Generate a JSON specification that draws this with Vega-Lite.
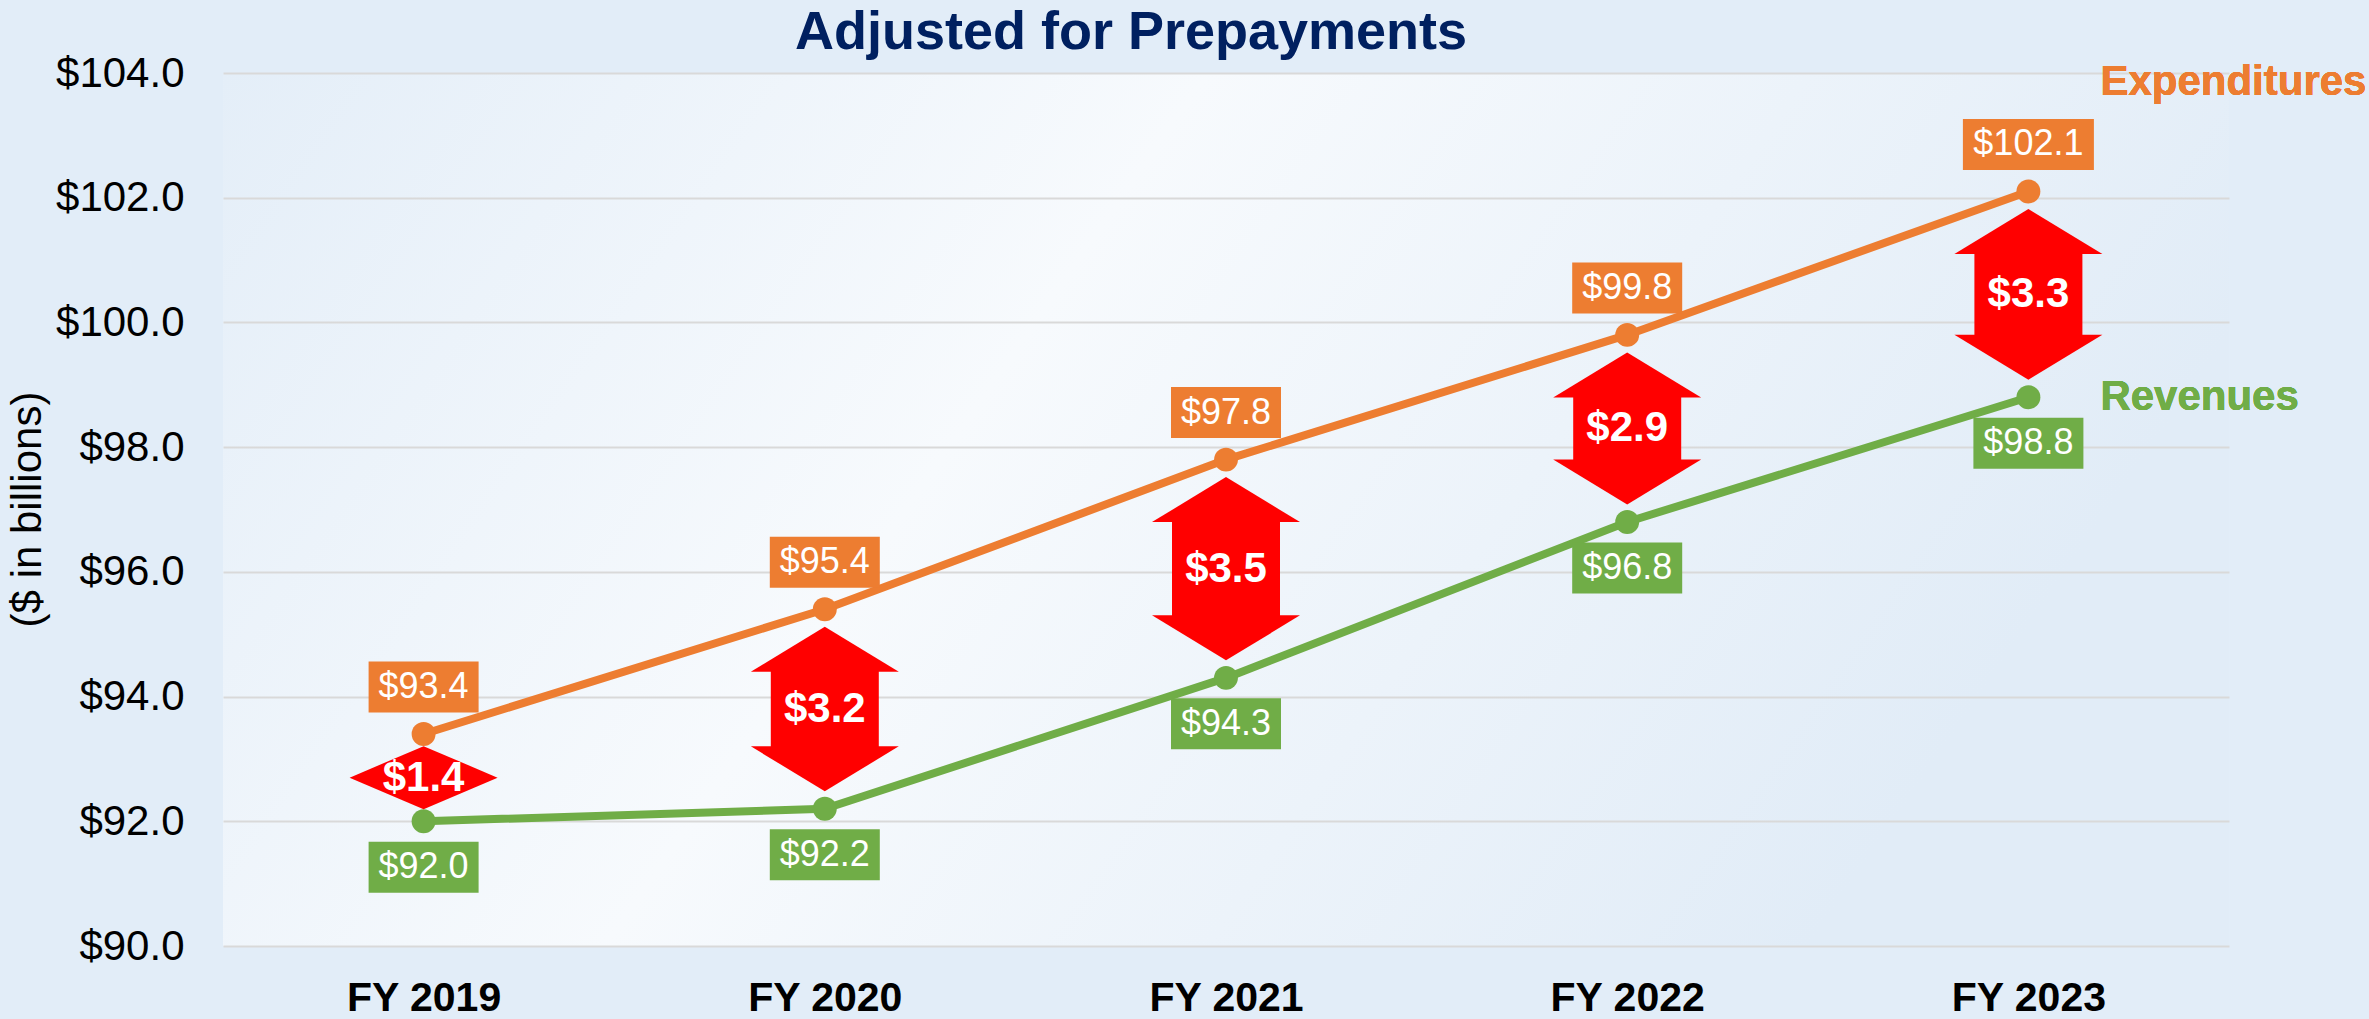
{
  "$schema": "https://vega.github.io/schema/vega-lite/v6.json",
  "width": 2006,
  "height": 873,
  "autosize": {"type": "none"},
  "padding": {"left": 223, "top": 73, "right": 140, "bottom": 73},
  "background": "#E2EDF8",
  "config": {
    "font": "Liberation Sans, Arial, sans-serif",
    "view": {
      "stroke": null,
      "fill": {
        "gradient": "linear", "x1": 0, "y1": 0, "x2": 1, "y2": 0.3,
        "stops": [
          {"offset": 0, "color": "#E4EEF8"},
          {"offset": 0.45, "color": "#F7FAFD"},
          {"offset": 1, "color": "#E1ECF7"}
        ]
      }
    },
    "axisX": {
      "labelAngle": 0, "labelFontSize": 41, "labelFontWeight": "bold", "labelColor": "#000000",
      "ticks": false, "tickSize": 0, "domain": false, "grid": false,
      "labelPadding": 64, "labelBaseline": "alphabetic", "labelFont": "Liberation Sans"
    },
    "axisY": {
      "domain": false, "ticks": false, "tickSize": 0, "labelPadding": 39,
      "labelFontSize": 42, "labelColor": "#000000", "labelFont": "Liberation Sans",
      "labelBaseline": "middle",
      "gridColor": "#D9D9D9", "gridWidth": 2,
      "titleFontSize": 42, "titleFontWeight": "normal", "titleColor": "#000000", "titleFont": "Liberation Sans",
      "titleX": -196, "titleY": 436, "titleAngle": -90, "titleAlign": "center", "titleBaseline": "middle"
    }
  },
  "title": {
    "text": "Adjusted for Prepayments",
    "fontSize": 54, "fontWeight": "bold", "color": "#002060", "font": "Liberation Sans",
    "anchor": "middle", "baseline": "alphabetic", "offset": 9, "dx": -95, "dy": 60
  },
  "data": {
    "values": [
      {"year": "FY 2019", "Expenditures": 93.4, "Revenues": 92.0, "Gap": 1.4},
      {"year": "FY 2020", "Expenditures": 95.4, "Revenues": 92.2, "Gap": 3.2},
      {"year": "FY 2021", "Expenditures": 97.8, "Revenues": 94.3, "Gap": 3.5},
      {"year": "FY 2022", "Expenditures": 99.8, "Revenues": 96.8, "Gap": 2.9},
      {"year": "FY 2023", "Expenditures": 102.1, "Revenues": 98.8, "Gap": 3.3}
    ]
  },
  "encoding": {
    "x": {
      "field": "year", "type": "ordinal", "title": null,
      "scale": {"type": "point", "padding": 0.5}
    }
  },
  "layer": [
    {
      "mark": {"type": "line", "color": "#ED7D31", "strokeWidth": 8},
      "encoding": {
        "y": {
          "field": "Expenditures", "type": "quantitative", "title": "($ in billions)",
          "scale": {"domain": [90, 104], "nice": false, "zero": false},
          "axis": {"values": [90, 92, 94, 96, 98, 100, 102, 104], "format": "$.1f", "title": "($ in billions)"}
        }
      }
    },
    {
      "mark": {"type": "line", "color": "#70AD47", "strokeWidth": 8},
      "encoding": {"y": {"field": "Revenues", "type": "quantitative", "title": "($ in billions)"}}
    },
    {
      "mark": {"type": "circle", "size": 572, "color": "#ED7D31", "opacity": 1},
      "encoding": {"y": {"field": "Expenditures", "type": "quantitative", "title": "($ in billions)"}}
    },
    {
      "mark": {"type": "circle", "size": 572, "color": "#70AD47", "opacity": 1},
      "encoding": {"y": {"field": "Revenues", "type": "quantitative", "title": "($ in billions)"}}
    },
    {
      "mark": {"type": "point", "filled": true, "color": "#ED7D31", "opacity": 1, "strokeWidth": 0, "yOffset": -47},
      "encoding": {
        "y": {"field": "Expenditures", "type": "quantitative", "title": "($ in billions)"},
        "shape": {
          "condition": {"test": "datum.Expenditures >= 100", "value": "M -1 -0.389 L 1 -0.389 L 1 0.389 L -1 0.389 Z"},
          "value": "M -1 -0.4636 L 1 -0.4636 L 1 0.4636 L -1 0.4636 Z"
        },
        "size": {"condition": {"test": "datum.Expenditures >= 100", "value": 17161}, "value": 12100}
      }
    },
    {
      "mark": {"type": "text", "color": "#FFFFFF", "fontSize": 36, "baseline": "middle", "align": "center", "yOffset": -47},
      "encoding": {
        "y": {"field": "Expenditures", "type": "quantitative", "title": "($ in billions)"},
        "text": {"field": "Expenditures", "type": "quantitative", "format": "$.1f"}
      }
    },
    {
      "mark": {"type": "point", "filled": true, "color": "#70AD47", "opacity": 1, "strokeWidth": 0, "yOffset": 46,
               "shape": "M -1 -0.4636 L 1 -0.4636 L 1 0.4636 L -1 0.4636 Z", "size": 12100},
      "encoding": {
        "y": {"field": "Revenues", "type": "quantitative", "title": "($ in billions)"}
      }
    },
    {
      "mark": {"type": "text", "color": "#FFFFFF", "fontSize": 36, "baseline": "middle", "align": "center", "yOffset": 46},
      "encoding": {
        "y": {"field": "Revenues", "type": "quantitative", "title": "($ in billions)"},
        "text": {"field": "Revenues", "type": "quantitative", "format": "$.1f"}
      }
    },
    {
      "transform": [{"filter": "datum.year != 'FY 2019'"}],
      "mark": {"type": "bar", "color": "#FF0000", "width": 108, "yOffset": 61, "y2Offset": -61, "opacity": 1},
      "encoding": {
        "y": {"field": "Expenditures", "type": "quantitative", "title": "($ in billions)"},
        "y2": {"field": "Revenues", "title": "($ in billions)"}
      }
    },
    {
      "transform": [{"filter": "datum.year != 'FY 2019'"}],
      "mark": {"type": "point", "filled": true, "color": "#FF0000", "opacity": 1, "strokeWidth": 0, "yOffset": 40,
               "shape": "M 0 -0.304 L 1 0.304 L -1 0.304 Z", "size": 21904},
      "encoding": {"y": {"field": "Expenditures", "type": "quantitative", "title": "($ in billions)"}}
    },
    {
      "transform": [{"filter": "datum.year != 'FY 2019'"}],
      "mark": {"type": "point", "filled": true, "color": "#FF0000", "opacity": 1, "strokeWidth": 0, "yOffset": -40,
               "shape": "M -1 -0.304 L 1 -0.304 L 0 0.304 Z", "size": 21904},
      "encoding": {"y": {"field": "Revenues", "type": "quantitative", "title": "($ in billions)"}}
    },
    {
      "transform": [{"fold": ["Expenditures", "Revenues"], "as": ["series", "value"]}],
      "layer": [
        {
          "transform": [{"filter": "datum.year == 'FY 2019'"}],
          "mark": {"type": "point", "filled": true, "color": "#FF0000", "opacity": 1, "strokeWidth": 0,
                   "shape": "M -1 0 L 0 -0.4257 L 1 0 L 0 0.4257 Z", "size": 21904},
          "encoding": {
            "y": {"aggregate": "mean", "field": "value", "type": "quantitative", "title": "($ in billions)"}
          }
        },
        {
          "mark": {"type": "text", "color": "#FFFFFF", "fontSize": 42, "fontWeight": "bold",
                   "font": "Liberation Sans", "baseline": "middle", "align": "center"},
          "encoding": {
            "y": {"aggregate": "mean", "field": "value", "type": "quantitative", "title": "($ in billions)"},
            "text": {"field": "Gap", "type": "quantitative", "format": "$.1f"}
          }
        }
      ]
    },
    {
      "mark": {"type": "text", "text": "Expenditures", "color": "#ED7D31", "fontSize": 42, "fontWeight": "bold",
               "align": "left", "baseline": "middle", "dx": 72},
      "encoding": {
        "x": {"datum": "FY 2023"},
        "y": {"datum": 103.85, "type": "quantitative"}
      }
    },
    {
      "mark": {"type": "text", "text": "Revenues", "color": "#70AD47", "fontSize": 42, "fontWeight": "bold",
               "align": "left", "baseline": "middle", "dx": 72},
      "encoding": {
        "x": {"datum": "FY 2023"},
        "y": {"datum": 98.8, "type": "quantitative"}
      }
    }
  ]
}
